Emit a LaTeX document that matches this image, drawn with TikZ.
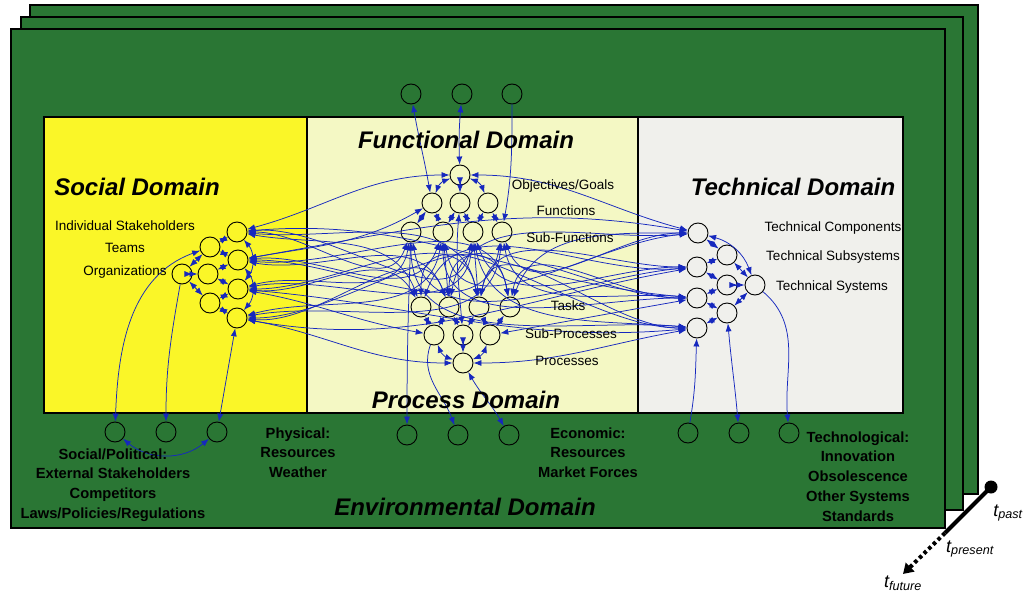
\documentclass[tikz,border=0pt]{standalone}
\usepackage{fontspec}
\setmainfont{Liberation Sans}
\usetikzlibrary{arrows.meta}
\definecolor{pgreen}{RGB}{42,118,52}
\definecolor{socyel}{RGB}{250,246,40}
\definecolor{funyel}{RGB}{244,248,196}
\definecolor{tecgry}{RGB}{240,240,236}
\definecolor{eblue}{RGB}{22,40,190}
\begin{document}
\begin{tikzpicture}[x=1pt,y=1pt,
  nd/.style={circle,draw=black,line width=0.9pt,minimum size=20pt,inner sep=0pt},
  ed/.style={draw=eblue,line width=0.75pt},
  bi/.style={ed,{Latex[length=8pt,width=6pt]}-{Latex[length=8pt,width=6pt]}},
  fw/.style={ed,-{Latex[length=8pt,width=6pt]}},
  domtitle/.style={font=\fontsize{24}{24}\selectfont\bfseries\itshape},
  lbl/.style={font=\fontsize{13.5}{15}\selectfont},
  envlbl/.style={font=\fontsize{14.7}{19.8}\selectfont\bfseries, align=center, anchor=north},
  panel/.style={fill=pgreen,draw=black,line width=1.3pt},
  tlbl/.style={font=\fontsize{18}{18}\selectfont\itshape}]

\useasboundingbox (0,0) rectangle (1025,-594);
\fill[white] (0,0) rectangle (1025,-594);

% stacked panels
\draw[panel] (30,-5) rectangle (978,-494);
\draw[panel] (21,-17) rectangle (963,-510);
\draw[panel] (11,-29) rectangle (945,-528);

% domain boxes
\fill[socyel] (44,-117) rectangle (307,-413);
\fill[funyel] (307,-117) rectangle (638,-413);
\fill[tecgry] (638,-117) rectangle (903,-413);
\draw[black,line width=1.2pt] (44,-117) rectangle (903,-413);
\draw[black,line width=1.2pt] (307,-117) -- (307,-413);
\draw[black,line width=1.2pt] (638,-117) -- (638,-413);

% nodes
\foreach \n/\x/\y in {s1/237/232, s2/238/260, s3/238/289, s4/237/318, s5/210/247, s6/208/274, s7/210/303, s8/182/274,
  f0/460/175, f1/432/203, f2/460/203, f3/488/203, f4/411/232, f5/443/232, f6/473/232, f7/502/232,
  p1/421/307, p2/449/307, p3/479/307, p4/510/307, p5/434/335, p6/463/335, p7/490/335, p8/463/363,
  t1/698/233, t2/697/267, t3/697/298, t4/697/328, t5/727/255, t6/727/285, t7/727/313, t8/755/285,
  e1/411/94, e2/462/94, e3/512/94, e4/115/432, e5/166/432, e6/217/432,
  e7/407/435, e8/458/435, e9/509/435, e10/688/433, e11/739/433, e12/789/433}
  \node[nd] (\n) at (\x,-\y) {};

% social <-> functional (enter from below)
\foreach \a/\b/\o/\i in {s1/f4/0/-110, s1/f6/5/-100, s2/f5/5/-110, s2/f7/0/-100, s3/f4/15/-100, s3/f6/10/-95, s4/f5/15/-100, s4/f7/10/-95}
  \draw[bi] (\a) to[out=\o,in=\i] (\b);
% social <-> process (enter from above)
\foreach \a/\b/\o/\i in {s1/p1/-10/110, s1/p3/-5/100, s2/p2/-10/110, s2/p4/-5/100, s3/p1/-5/120, s3/p3/0/100, s4/p2/-5/110, s4/p4/0/100}
  \draw[bi] (\a) to[out=\o,in=\i] (\b);
\draw[bi] (s1) to[out=15,in=180] (f0);
\draw[bi] (s2) to[out=10,in=-150] (f1);
\draw[bi] (s4) to[out=-10,in=180] (p8);
\draw[bi] (s3) to[out=-10,in=170] (p5);
% social <-> technical
\foreach \a/\b/\o/\i in {s1/t3/5/175, s2/t1/10/170, s3/t4/-5/185, s4/t2/-10/190}
  \draw[bi] (\a) to[out=\o,in=\i] (\b);
% technical <-> functional
\foreach \a/\b/\o/\i in {t1/f7/180/-70, t1/f5/185/-80, t2/f6/180/-70, t2/f4/185/-80, t3/f7/175/-80, t3/f5/180/-90, t4/f6/175/-80, t4/f4/175/-90}
  \draw[bi] (\a) to[out=\o,in=\i] (\b);
% technical <-> process
\foreach \a/\b/\o/\i in {t1/p4/180/70, t1/p2/185/80, t2/p3/180/80, t2/p1/185/70, t3/p4/180/80, t3/p2/180/90, t4/p3/180/80, t4/p1/180/90}
  \draw[bi] (\a) to[out=\o,in=\i] (\b);
\draw[bi] (t1) to[out=165,in=0] (f0);
\draw[bi] (t4) to[out=190,in=0] (p8);
\draw[bi] (t3) to[out=190,in=10] (p7);

% within social
\foreach \a/\b in {s8/s5, s8/s6, s8/s7, s5/s1, s5/s2, s6/s2, s6/s3, s7/s3, s7/s4}
  \draw[bi] (\a) -- (\b);
\draw[bi] (s1) to[bend left=40] (s3);
\draw[bi] (s2) to[bend left=40] (s4);
% within functional
\foreach \a/\b in {f0/f2, f1/f4, f1/f5, f2/f5, f2/f6, f3/f6, f3/f7}
  \draw[bi] (\a) -- (\b);
\draw[bi] (f0) to[bend right=25] (f1);
\draw[bi] (f0) to[bend left=25] (f3);
% within process
\foreach \a/\b in {p1/p5, p2/p5, p2/p6, p3/p6, p3/p7, p4/p7, p6/p8}
  \draw[bi] (\a) -- (\b);
\draw[bi] (p5) to[bend right=25] (p8);
\draw[bi] (p7) to[bend left=25] (p8);
% functional <-> process
\draw[bi] (f5) -- (p2);
\draw[bi] (f6) -- (p3);
\draw[bi] (f2) to[out=-95,in=95] (p6);
% within technical
\foreach \a/\b in {t1/t5, t2/t5, t2/t6, t3/t6, t3/t7, t4/t7, t5/t8, t6/t8, t7/t8}
  \draw[bi] (\a) -- (\b);
\draw[bi] (t1) to[out=-15,in=110] (t8);

% environment links
\draw[bi] (e1) to[out=-80,in=100] (f1);
\draw[bi] (e2) to[out=-95,in=92] (f0);
\draw[fw] (e3) to[out=-90,in=80] (f7);
\draw[bi] (s5) to[out=200,in=88] (e4);
\draw[fw] (s8) to[out=-100,in=90] (e5);
\draw[bi] (s4) to[out=-100,in=80] (e6);
\draw[bi] (e4) to[out=-40,in=-140] (e6);
\draw[fw] (f4) to[out=-92,in=90] (e7);
\draw[fw] (p5) to[out=-110,in=110] (e8);
\draw[bi] (e9) to[out=120,in=-60] (p8);
\draw[fw] (e10) to[out=80,in=-92] (t4);
\draw[bi] (t7) to[out=-85,in=95] (e11);
\draw[fw] (t8) to[out=-40,in=95] (e12);

% domain titles
\node[domtitle] (tsoc) at (137,-187) {Social Domain};
\node[domtitle] (tfun) at (466,-140) {Functional Domain};
\node[domtitle] (ttec) at (793,-187) {Technical Domain};
\node[domtitle] (tpro) at (466,-400) {Process Domain};
\node[domtitle] (tenv) at (465,-507) {Environmental Domain};

% level labels
\node[lbl] (l1) at (125,-226) {Individual Stakeholders};
\node[lbl] (l2) at (125,-248) {Teams};
\node[lbl] (l3) at (125,-272) {Organizations};
\node[lbl] (l4) at (563,-186) {Objectives/Goals};
\node[lbl] (l5) at (566,-211) {Functions};
\node[lbl] (l6) at (570,-238) {Sub-Functions};
\node[lbl] (l7) at (568,-306) {Tasks};
\node[lbl] (l8) at (571,-334) {Sub-Processes};
\node[lbl] (l9) at (567,-361) {Processes};
\node[lbl] (l10) at (833,-228) {Technical Components};
\node[lbl] (l11) at (833,-257) {Technical Subsystems};
\node[lbl] (l12) at (832,-287) {Technical Systems};

% environment labels
\node[envlbl] (b1) at (113,-445) {Social/Political:\\External Stakeholders\\Competitors\\Laws/Policies/Regulations};
\node[envlbl] (b2) at (298,-424) {Physical:\\Resources\\Weather};
\node[envlbl] (b3) at (588,-424) {Economic:\\Resources\\Market Forces};
\node[envlbl] (b4) at (858,-428) {Technological:\\Innovation\\Obsolescence\\Other Systems\\Standards};

% time axis
\fill[black] (991,-487) circle (6.5);
\coordinate (tp) at (991,-487);
\coordinate (tn) at (945,-533);
\coordinate (tf) at (903,-574);
\draw[black,line width=4pt] (tp) -- (tn);
\draw[black,line width=4pt,dash pattern=on 3.5pt off 3pt,-{Triangle[length=10pt,width=12pt]}] (tn) -- (tf);
\node[tlbl] (lp) at (1008,-513) {t\textsubscript{past}};
\node[tlbl] (ln) at (970,-549) {t\textsubscript{present}};
\node[tlbl] (lf) at (903,-583) {t\textsubscript{future}};
\end{tikzpicture}
\end{document}
